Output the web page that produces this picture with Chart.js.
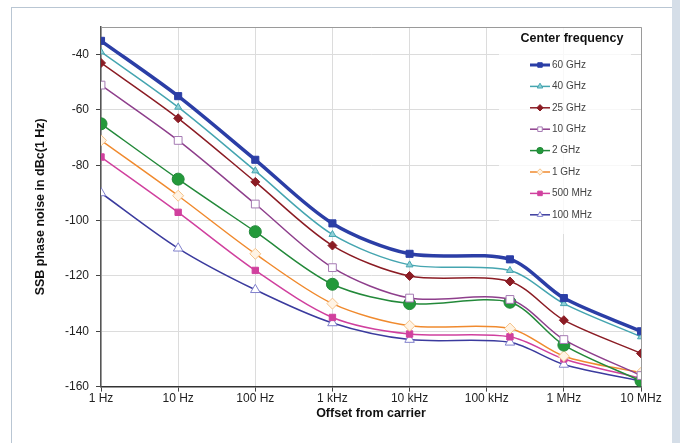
<!DOCTYPE html>
<html>
<head>
<meta charset="utf-8">
<script src="https://cdn.jsdelivr.net/npm/chart.js@4.4.1/dist/chart.umd.min.js"></script>
<style>
  html, body { margin: 0; padding: 0; background: #fff; }
  #wrap { position: relative; width: 680px; height: 443px; overflow: hidden; }
  #frame { position: absolute; left: 11px; top: 7px; width: 660px; height: 460px; border: 1px solid #b9c6d3; }
  #side { position: absolute; left: 672px; top: 0; width: 8px; height: 443px; background: #d5dee8; }
  canvas { position: absolute; left: 0; top: 0; }
</style>
</head>
<body>
<div id="wrap">
  <div id="frame"></div>
  <div id="side"></div>
  <canvas id="noiseChart" width="680" height="443"></canvas>
</div>
<script>
// offset frequencies (Hz)
const offsets = [1, 10, 100, 1e3, 1e4, 2e5, 1e6, 1e7];

const xTicks = [1, 10, 100, 1e3, 1e4, 1e5, 1e6, 1e7];
const xTickLabels = ["1 Hz", "10 Hz", "100 Hz", "1 kHz", "10 kHz", "100 kHz", "1 MHz", "10 MHz"];
const yTicks = [-160, -140, -120, -100, -80, -60, -40];

// SSB phase noise, dBc(1 Hz)
const noise60G  = [-35, -55, -78, -101, -112, -114, -128, -140];
const noise40G  = [-39, -59, -82, -105, -116, -118, -130, -142];
const noise25G  = [-43, -63, -86, -109, -120, -122, -136, -148];
const noise10G  = [-51, -71, -94, -117, -128, -128.5, -143, -156];
const noise2G   = [-65, -85, -104, -123, -130, -129.5, -145, -158];
const noise1G   = [-71, -91, -112, -130, -138, -139, -149, -155];
const noise500M = [-77, -97, -118, -135, -141, -142, -150, -157];
const noise100M = [-90, -110, -125, -137, -143, -144, -152, -158];

function toPoints(values) {
  return values.map((v, i) => ({ x: offsets[i], y: v }));
}

function series(label, values, color, width, style, radius, fill, border) {
  return {
    label: label,
    data: toPoints(values),
    borderColor: color,
    backgroundColor: fill,
    borderWidth: width,
    tension: 0.3,
    pointStyle: style,
    pointRadius: radius,
    pointBackgroundColor: fill,
    pointBorderColor: border,
    pointBorderWidth: 1
  };
}

const datasets = [
  series("60 GHz", noise60G, "#2b3ea6", 3.5, "rect", 5, "#2b3ea6", "#2b3ea6"),
  series("40 GHz", noise40G, "#45a5b0", 1.5, "triangle", 4, "#8fd0d6", "#45a5b0"),
  series("25 GHz", noise25G, "#8b1c24", 1.5, "rectRot", 4.5, "#8b1c24", "#8b1c24"),
  series("10 GHz", noise10G, "#8e3f8c", 1.5, "rect", 5.5, "#ffffff", "#a57ab3"),
  series("2 GHz", noise2G, "#23893a", 1.5, "circle", 6, "#23993a", "#23893a"),
  series("1 GHz", noise1G, "#f08a2e", 1.5, "rectRot", 5.5, "#fff3e4", "#f5c38a"),
  series("500 MHz", noise500M, "#d0409e", 1.5, "rect", 4.5, "#d0409e", "#d0409e"),
  series("100 MHz", noise100M, "#3b3b9e", 1.5, "triangle", 5.5, "#ffffff", "#8080cc")
];

const frameLines = {
  id: "frameLines",
  afterDatasetsDraw(chart) {
    const a = chart.chartArea;
    const ctx = chart.ctx;
    ctx.save();
    ctx.strokeStyle = "#9a9a9a";
    ctx.lineWidth = 1;
    ctx.beginPath();
    ctx.moveTo(a.left, a.top + 0.5);
    ctx.lineTo(a.right + 0.5, a.top + 0.5);
    ctx.lineTo(a.right + 0.5, a.bottom);
    ctx.stroke();
    ctx.restore();
  }
};

const freqLegend = {
  id: "freqLegend",
  afterDraw(chart) {
    const a = chart.chartArea;
    const ctx = chart.ctx;
    ctx.save();
    ctx.fillStyle = "rgba(255,255,255,0.8)";
    ctx.fillRect(a.right - 142, a.top + 1, 132, 206);
    ctx.fillStyle = "#111";
    ctx.font = "bold 12.5px 'Liberation Sans', Arial, sans-serif";
    ctx.textAlign = "center";
    ctx.textBaseline = "middle";
    ctx.fillText("Center frequency", a.right - 69, a.top + 12);
    ctx.font = "10px 'Liberation Sans', Arial, sans-serif";
    ctx.textAlign = "left";
    chart.data.datasets.forEach((ds, i) => {
      const y = a.top + 38 + i * 21.4;
      const x0 = a.right - 111;
      ctx.strokeStyle = ds.borderColor;
      ctx.lineWidth = Math.min(ds.borderWidth, 3);
      ctx.beginPath();
      ctx.moveTo(x0, y);
      ctx.lineTo(x0 + 20, y);
      ctx.stroke();
      ctx.fillStyle = ds.pointBackgroundColor;
      ctx.strokeStyle = ds.pointBorderColor;
      ctx.lineWidth = 1;
      Chart.helpers.drawPoint(ctx, {
        pointStyle: ds.pointStyle,
        radius: Math.min(ds.pointRadius, 4) * 0.8,
        rotation: 0,
        borderWidth: 1
      }, x0 + 10, y);
      ctx.fillStyle = "#444";
      ctx.fillText(ds.label, x0 + 22, y);
    });
    ctx.restore();
  }
};

new Chart(document.getElementById("noiseChart"), {
  type: "line",
  data: { datasets: datasets },
  plugins: [frameLines, freqLegend],
  options: {
    responsive: false,
    animation: false,
    layout: { padding: { left: 33, right: 39, top: 27, bottom: 22 } },
    plugins: {
      legend: { display: false },
      tooltip: { enabled: false }
    },
    scales: {
      x: {
        type: "logarithmic",
        min: 1,
        max: 1e7,
        afterBuildTicks: (axis) => {
          axis.ticks = xTicks.map((v) => ({ value: v }));
        },
        ticks: {
          autoSkip: false,
          maxRotation: 0,
          padding: 0,
          color: "#222",
          font: { family: "'Liberation Sans', Arial, sans-serif", size: 12 },
          callback: (v, i) => xTickLabels[i]
        },
        grid: { color: "#dcdcdc", tickColor: "#444", tickLength: 5 },
        border: { color: "#333", width: 1.5 },
        title: {
          display: true,
          text: "Offset from carrier",
          color: "#111",
          font: { family: "'Liberation Sans', Arial, sans-serif", size: 12.5, weight: "bold" },
          padding: { top: 0, bottom: 0 }
        }
      },
      y: {
        min: -160,
        max: -30,
        afterBuildTicks: (axis) => {
          axis.ticks = yTicks.map((v) => ({ value: v }));
        },
        ticks: {
          color: "#222",
          font: { family: "'Liberation Sans', Arial, sans-serif", size: 12 },
          padding: 7
        },
        grid: { color: "#dcdcdc", tickColor: "#444", tickLength: 5 },
        border: { color: "#555", width: 1.5 },
        title: {
          display: true,
          text: "SSB phase noise in dBc(1 Hz)",
          color: "#111",
          font: { family: "'Liberation Sans', Arial, sans-serif", size: 12.5, weight: "bold" },
          padding: { top: 0, bottom: 10 }
        }
      }
    }
  }
});
</script>
</body>
</html>
